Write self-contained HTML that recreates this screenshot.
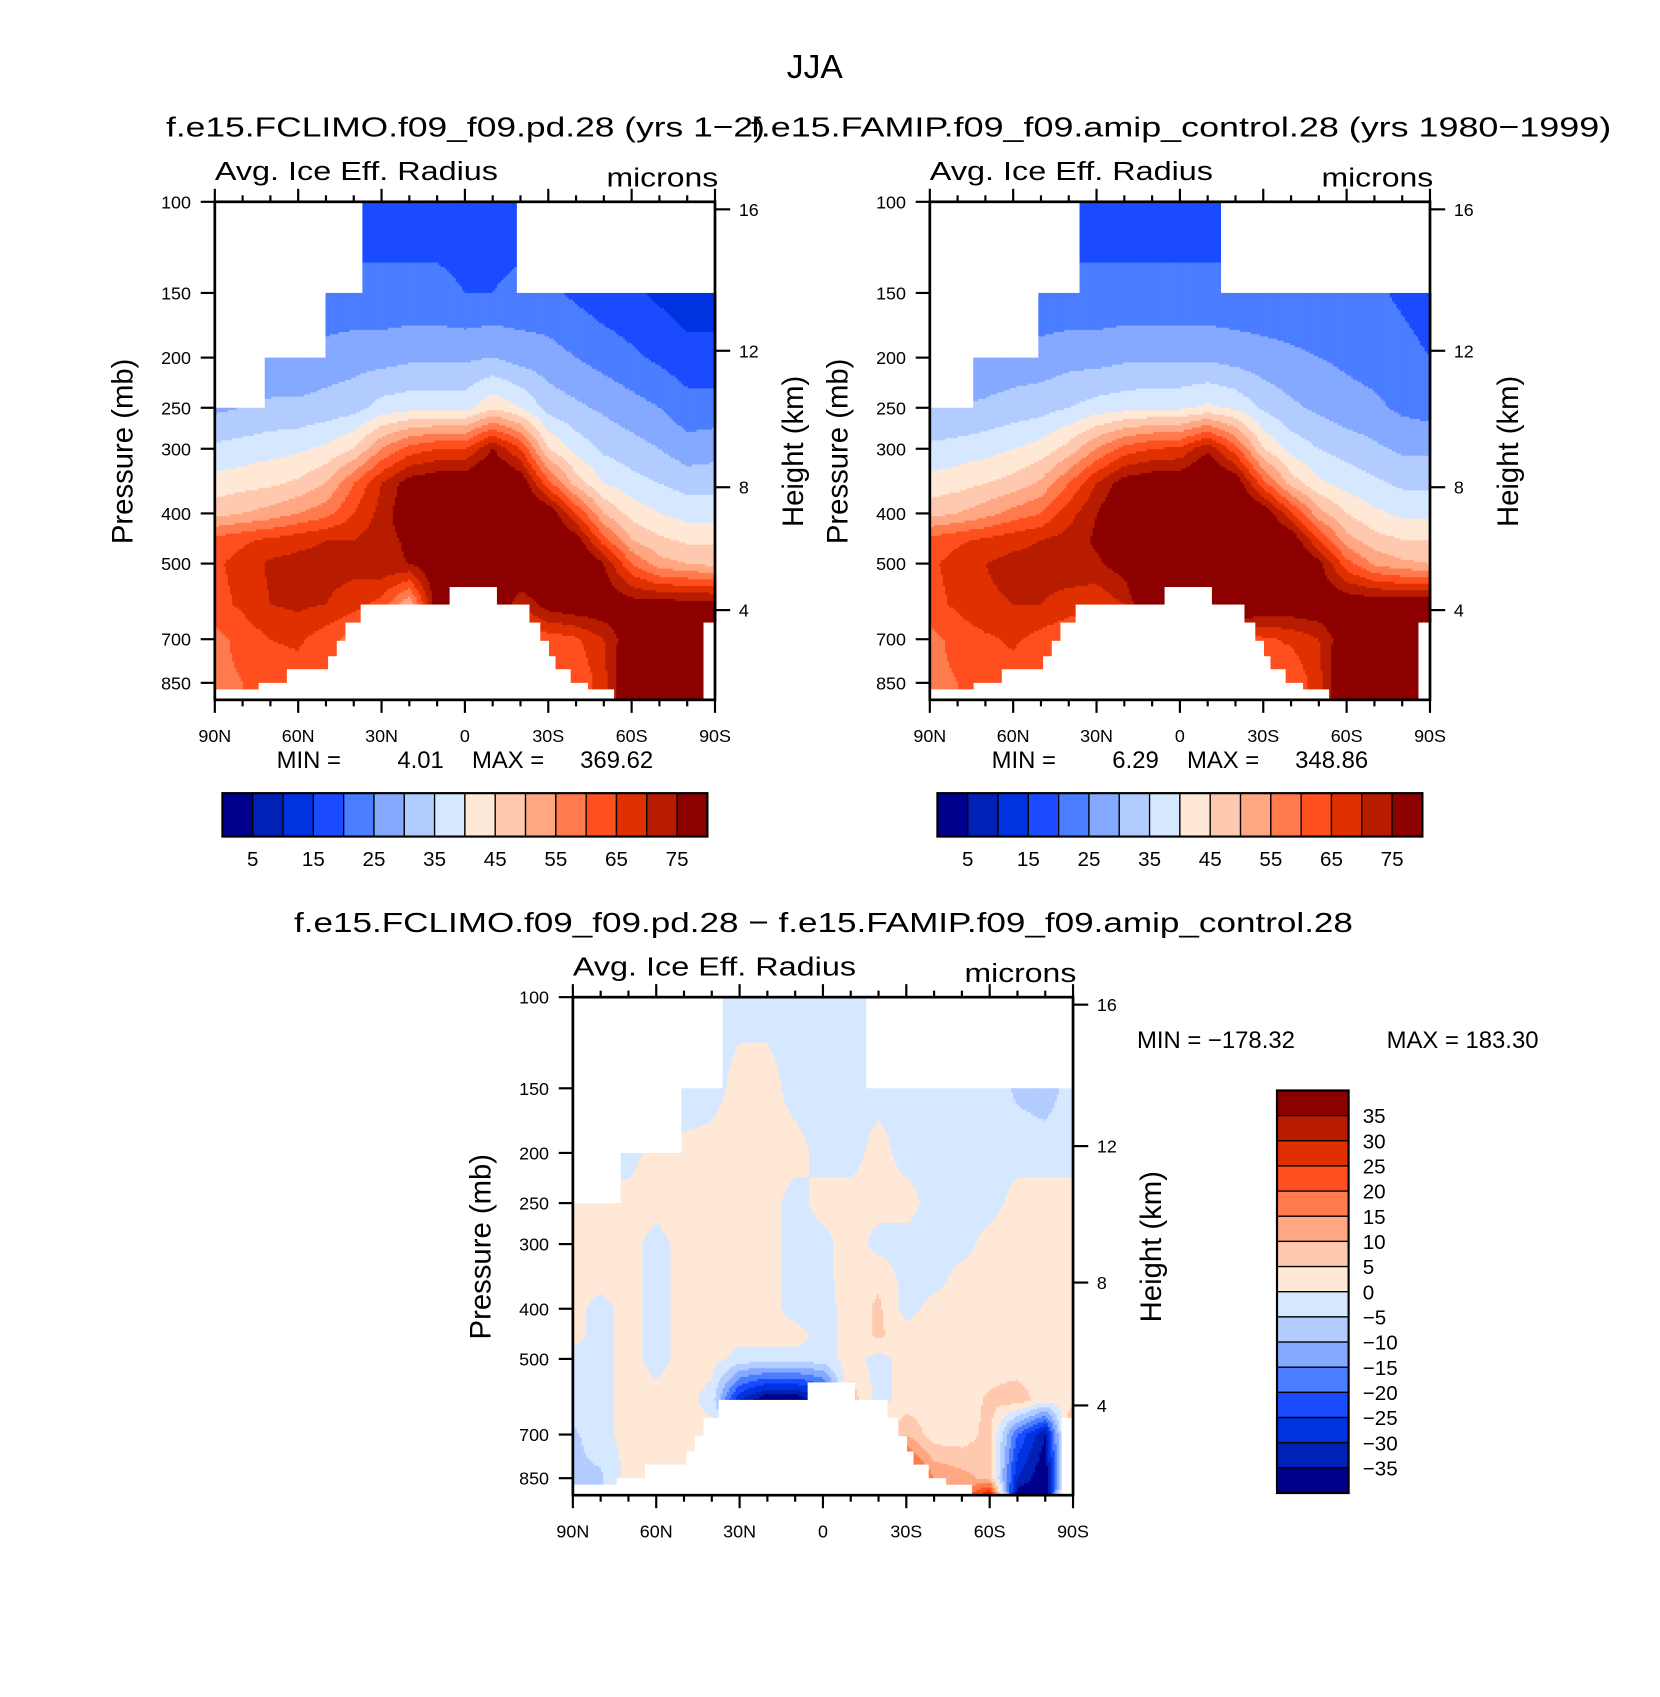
<!DOCTYPE html>
<html><head><meta charset="utf-8"><style>
html,body{margin:0;padding:0;background:#fff}
svg{display:block}
text{font-family:"Liberation Sans",sans-serif;fill:#000}
</style></head><body>
<svg id="fig" xmlns="http://www.w3.org/2000/svg" width="1660" height="1697" viewBox="0 0 1530 1564" preserveAspectRatio="none">
<rect x="0" y="0" width="1530" height="1564" fill="#fff"/>
<text x="751" y="72" font-size="31" text-anchor="middle">JJA</text>
<text x="153" y="126" font-size="26" textLength="552" lengthAdjust="spacingAndGlyphs">f.e15.FCLIMO.f09_f09.pd.28 (yrs 1−2)</text>
<text x="692" y="126" font-size="26" textLength="793" lengthAdjust="spacingAndGlyphs">f.e15.FAMIP.f09_f09.amip_control.28 (yrs 1980−1999)</text>
<text x="271" y="859" font-size="26" textLength="976" lengthAdjust="spacingAndGlyphs">f.e15.FCLIMO.f09_f09.pd.28 − f.e15.FAMIP.f09_f09.amip_control.28</text>
<g id="layer"></g>
</svg>
<script>
// ---- data ----
const LAT = [90,80,70,60,50,40,30,20,10,0,-10,-20,-30,-40,-50,-60,-70,-80,-90];
const PLEV = [100,150,200,250,300,350,400,450,500,600,700,850,925];
const field1 = [
[18,18,18,18,18,18,18,18,18,18,18,18,18,18,18,18,18,18,18],
[22,22,22,22,21,21,21,21,21,20,20,21,21,19,17,16,14,12,12],
[26,26,26,26,27,28,28,29,29,29,30,28,27,25,23,21,19,17,17],
[29,30,31,31,32,33,37,38,38,38,44,40,33,31,29,27,25,22,22],
[36,37,38,39,41,45,55,62,65,65,75,65,45,38,34,32,30,27,28],
[42,43,44,46,50,60,70,78,80,80,85,80,62,48,40,37,35,33,33],
[48,50,52,55,58,65,72,80,85,85,85,85,80,65,50,43,40,38,38],
[62,64,66,68,70,70,73,76,80,85,85,85,85,78,62,50,46,44,44],
[64,67,71,72,72,72,74,75,80,85,85,85,85,85,75,60,52,50,48],
[63,66,70,71,70,67,63,50,80,85,85,70,78,80,80,78,78,78,78],
[58,62,65,66,62,58,58,55,55,55,58,60,62,64,70,80,85,85,85],
[58,60,62,62,60,58,58,58,58,58,58,58,60,60,68,85,85,85,85],
[58,60,62,62,60,58,58,58,58,58,58,58,60,60,68,85,85,85,85]];
const field2 = [
[18,18,18,18,18,18,18,18,18,18,18,18,18,18,18,18,18,18,18],
[22,22,22,22,21,21,21,21,21,21,21,21,21,21,21,21,21,19,17],
[26,26,26,27,27,28,28,29,29,29,29,28,27,26,25,24,23,22,20],
[30,30,31,32,33,35,37,38,39,39,41,39,34,31,29,27,26,24,23],
[36,37,38,40,42,47,55,62,65,66,74,62,45,38,35,33,31,29,29],
[42,43,45,47,51,60,70,78,80,80,85,80,62,48,41,38,36,34,34],
[48,50,53,57,60,68,75,82,85,85,85,85,80,66,52,45,41,39,39],
[62,64,66,68,70,72,76,80,85,85,85,85,85,80,65,52,47,45,45],
[64,67,70,72,72,73,74,78,85,85,85,85,85,85,77,62,54,51,50],
[63,66,69,70,70,68,66,70,85,85,85,85,80,80,80,80,80,80,80],
[58,62,64,66,63,60,58,57,57,58,60,62,64,66,70,80,85,85,85],
[58,60,62,62,60,58,58,58,58,58,58,58,60,60,68,85,85,85,85],
[58,60,62,62,60,58,58,58,58,58,58,58,60,60,68,85,85,85,85]];
const field3 = [
[-2,-2,-2,-2,-2,-2,-2,-2,-2,-2,-2,-2,-2,-2,-2,-2,-2,-2,-2],
[-2,-2,-2,-2,-4,-2,2,2,-2,-2,-2,-2,-2,-4,-2,-2,-6,-8,-2],
[-2,-2,-2,2,2,2,2,2,2,-2,-2,2,-2,-2,-2,-2,-2,-2,-2],
[2,2,2,2,2,2,2,2,-2,2,2,2,2,-2,-2,-2,2,2,2],
[2,2,2,-2,2,2,2,2,-2,-2,3,-2,-2,-2,-2,2,2,2,2],
[2,2,2,-2,2,2,2,2,-2,-2,3,4,-2,-2,2,2,2,2,2],
[2,-2,2,-2,2,2,2,2,-2,-2,2,6,-2,2,2,2,2,2,2],
[2,-2,2,-2,2,2,2,2,2,-2,2,6,2,2,2,2,2,2,2],
[-2,-2,2,-2,2,2,-2,-2,-2,-2,2,-2,2,2,2,2,2,2,2],
[-2,-2,2,2,2,-2,-30,-40,-40,-30,8,-2,2,2,2,6,8,2,2],
[-6,-2,2,2,2,2,2,2,2,2,2,2,10,2,2,7,-20,-35,20],
[-6,-6,2,4,2,2,2,2,2,2,2,2,30,15,12,8,-30,-40,20],
[-6,-6,2,4,2,2,2,2,2,2,2,2,30,20,15,35,-40,-40,30]];
const topBreaks1 = [90,72,50,37,-18.6,-90];
const topP1 = [250,200,150,100,150];
const topBreaks2 = [90,74,51,36,-15,-90];
const topP2 = [250,200,150,100,150];
const topBreaks3 = [90,72.5,51,36.5,-15.6,-90];
const topP3 = [250,200,150,100,150];
const botBreaks = [90,74.3,64.6,49.7,45.9,43.2,37.5,5.3,-11.5,-23.4,-27.2,-30.3,-32.8,-37.8,-44,-54,-85.9,-90];
const botP = [875,850,800,755,705,650,600,555,600,650,705,755,800,850,875,925,650];
const abs_levels_labels = [5,15,25,35,45,55,65,75];
const diff_levels_labels = [35,30,25,20,15,10,5,0,-5,-10,-15,-20,-25,-30,-35];
const minmax1 = ["4.01","369.62"];
const minmax2 = ["6.29","348.86"];
const minmax3 = ["−178.32","183.30"];
const pTickLabels = [100,150,200,250,300,400,500,700,850];
const latTickLabels = ["90N","60N","30N","0","30S","60S","90S"];
const heightLabels = [16,12,8,4];
const heightP = [103.4,194,356,615];
const COLORS = ["#00008c","#0021b5","#0033e0","#1a4bff","#4a7dff","#84a9ff","#b3ccff","#d6e8ff","#ffe8d6","#ffc9b0","#ffa682","#ff7a4d","#ff4f1f","#e03000","#b81c00","#8c0000"];

const NS = "http://www.w3.org/2000/svg";
const layer = document.getElementById('layer');
function mk(tag, attrs, parent){const e=document.createElementNS(NS,tag);for(const k in attrs)e.setAttribute(k,attrs[k]);(parent||layer).appendChild(e);return e;}

const PW = 461, PH = 459, DEC = 477;
function xS(px0, lat){return px0 + (90-lat)/180*PW;}
function yS(py0, p){return py0 + (Math.log10(p)-2)*DEC;}
function pFromY(py0, y){return Math.pow(10, 2+(y-py0)/DEC);}
function segVal(breaks, vals, lat){for(let i=0;i<vals.length;i++){if(lat<=breaks[i]&&lat>=breaks[i+1])return vals[i];}return vals[vals.length-1];}
function sample(field, lat, p){
  let fi=(90-lat)/10; fi=Math.max(0,Math.min(18,fi)); const i0=Math.min(17,Math.floor(fi)); const ti=fi-i0;
  const lp=Math.log10(p); let j0=0;
  for(let j=0;j<PLEV.length-1;j++){if(lp>=Math.log10(PLEV[j]))j0=j;}
  j0=Math.min(PLEV.length-2,j0);
  let tj=(lp-Math.log10(PLEV[j0]))/(Math.log10(PLEV[j0+1])-Math.log10(PLEV[j0])); tj=Math.max(0,Math.min(1,tj));
  const a=field[j0][i0],b=field[j0][i0+1],c=field[j0+1][i0],d=field[j0+1][i0+1];
  return (a*(1-ti)+b*ti)*(1-tj)+(c*(1-ti)+d*ti)*tj;
}
function idxAbs(v){return Math.max(0,Math.min(15,Math.floor(v/5)));}
function idxDiff(v){return Math.max(0,Math.min(15,Math.floor((v+40)/5)));}

function panel(name, px0, py0, field, idxFn, topB, topV){
  const g = mk('g',{});
  
  
  const cg = mk('g',{},g);
  
  
  const step=2;
  for(let x=px0; x<px0+PW; x+=step){
    const lat = 90-((x+step/2-px0)/PW)*180;
    const pt = segVal(topB, topV, lat), pb = segVal(botBreaks, botP, lat);
    const yt = yS(py0, pt), yb = Math.min(py0+PH, yS(py0, pb));
    let runStart=yt, runIdx=-1;
    for(let y=yt; y<yb; y+=step){
      const ci = idxFn(sample(field, lat, pFromY(py0, y+step/2)));
      if(ci!==runIdx){
        if(runIdx>=0){const r=mk('rect',{x:x,y:runStart,width:step+0.4,height:y-runStart+0.4,fill:COLORS[runIdx]},cg);
          
          }
        runStart=y; runIdx=ci;
      }
    }
    if(runIdx>=0){const r=mk('rect',{x:x,y:runStart,width:step+0.4,height:yb-runStart,fill:COLORS[runIdx]},cg);
      
      }
  }
  const fr = mk('rect',{x:px0,y:py0,width:PW,height:PH,fill:'none',stroke:'#000','stroke-width':2.5},g);
  
  
  for(let lat=90; lat>=-90; lat-=10){
    const x=xS(px0,lat), major=(lat%30===0), L=major?12:6;
    const t1=mk('line',{x1:x,y1:py0,x2:x,y2:py0-L,stroke:'#000','stroke-width':2},g);
    
    
    const t2=mk('line',{x1:x,y1:py0+PH,x2:x,y2:py0+PH+L,stroke:'#000','stroke-width':2},g);
    
    
  }
  latTickLabels.forEach((s,i)=>{
    const t=mk('text',{x:xS(px0,90-30*i),y:py0+PH+39,'font-size':16.5,'text-anchor':'middle'},g); t.textContent=s;
    
    
  });
  pTickLabels.forEach(p=>{
    const y=yS(py0,p);
    const l=mk('line',{x1:px0,y1:y,x2:px0-13,y2:y,stroke:'#000','stroke-width':2},g);
    
    
    const t=mk('text',{x:px0-22,y:y+6,'font-size':16.5,'text-anchor':'end'},g); t.textContent=p;
    
    
  });
  heightLabels.forEach((h,i)=>{
    const y=yS(py0,heightP[i]);
    const l=mk('line',{x1:px0+PW,y1:y,x2:px0+PW+14,y2:y,stroke:'#000','stroke-width':2},g);
    
    
    const t=mk('text',{x:px0+PW+22,y:y+6,'font-size':16.5},g); t.textContent=h;
    
    
  });
  const a=mk('text',{x:px0,y:py0-20,'font-size':24,textLength:261,lengthAdjust:'spacingAndGlyphs'},g); a.textContent='Avg. Ice Eff. Radius';
  
  
  const m=mk('text',{x:px0+PW+3,y:py0-14,'font-size':24,'text-anchor':'end',textLength:103,lengthAdjust:'spacingAndGlyphs'},g); m.textContent='microns';
  
  
  const yp=mk('text',{x:0,y:0,'font-size':27,'text-anchor':'middle',transform:`translate(${px0-76},${py0+230}) rotate(-90)`},g); yp.textContent='Pressure (mb)';
  
  
  const yh=mk('text',{x:0,y:0,'font-size':27,'text-anchor':'middle',transform:`translate(${px0+PW+81},${py0+230}) rotate(-90)`},g); yh.textContent='Height (km)';
  
  
  return g;
}

function hbar(px0, mm){
  const bx=px0+7, by=731, bw=447/16, bh=40;
  const g=mk('g',{});
  
  
  COLORS.forEach((c,i)=>{
    const r=mk('rect',{x:bx+i*bw,y:by,width:bw,height:bh,fill:c,stroke:'#000','stroke-width':1.2},g);
    
    
  });
  mk('rect',{x:bx,y:by,width:447,height:bh,fill:'none',stroke:'#000','stroke-width':2},g);
  abs_levels_labels.forEach((v,k)=>{
    const t=mk('text',{x:bx+(1+2*k)*bw,y:798,'font-size':19,'text-anchor':'middle'},g); t.textContent=v;
    
    
  });
  const t1=mk('text',{x:px0+57,y:708,'font-size':22},g); t1.textContent='MIN =';
  
  
  const t2=mk('text',{x:px0+211,y:708,'font-size':22,'text-anchor':'end'},g); t2.textContent=mm[0];
  
  
  const t3=mk('text',{x:px0+237,y:708,'font-size':22},g); t3.textContent='MAX =';
  
  
  const t4=mk('text',{x:px0+404,y:708,'font-size':22,'text-anchor':'end'},g); t4.textContent=mm[1];
  
  
}

panel('panel-control', 198, 186, field1, idxAbs, topBreaks1, topP1);
hbar(198, minmax1);
panel('panel-amip', 857, 186, field2, idxAbs, topBreaks2, topP2);
hbar(857, minmax2);
panel('panel-difference', 528, 919, field3, idxDiff, topBreaks3, topP3);

(function(){
  const bx=1177, by=1005, bw=66, bh=371/16;
  const g=mk('g',{});
  
  
  for(let i=0;i<16;i++){
    const r=mk('rect',{x:bx,y:by+i*bh,width:bw,height:bh,fill:COLORS[15-i],stroke:'#000','stroke-width':1.2},g);
    
    
  }
  mk('rect',{x:bx,y:by,width:bw,height:371,fill:'none',stroke:'#000','stroke-width':2},g);
  diff_levels_labels.forEach((v,k)=>{
    const t=mk('text',{x:1256,y:by+(k+1)*bh+7,'font-size':19},g); t.textContent=(v<0?'−'+(-v):String(v));
    
    
  });
  const a=mk('text',{x:1048,y:966,'font-size':22},g); a.textContent='MIN = '+minmax3[0];
  
  
  const b=mk('text',{x:1418,y:966,'font-size':22,'text-anchor':'end'},g); b.textContent='MAX = '+minmax3[1];
  
  
})();
</script>
</body></html>
